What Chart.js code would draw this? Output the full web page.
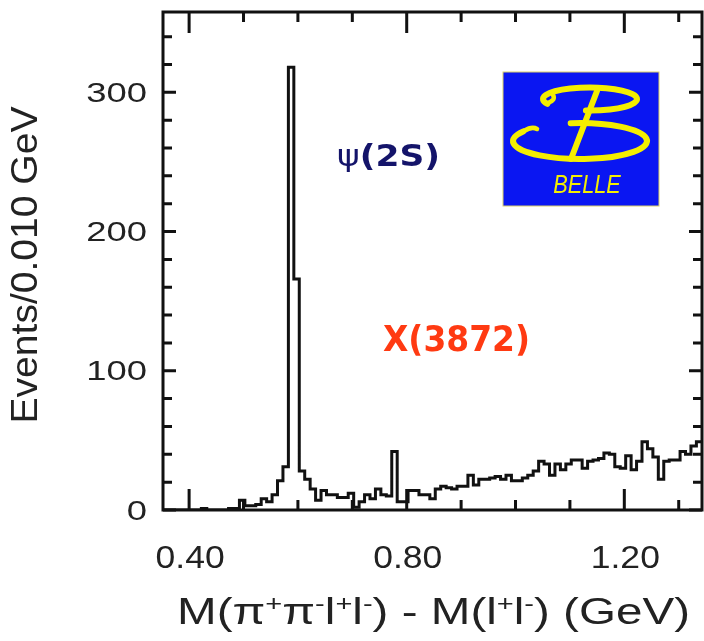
<!DOCTYPE html>
<html>
<head>
<meta charset="utf-8">
<script src="https://cdn.jsdelivr.net/npm/chart.js@4.4.1/dist/chart.umd.min.js"></script>
<style>
html, body { margin:0; padding:0; background:#fff; }
#wrap { width:704px; height:641px; }
</style>
</head>
<body>
<div id="wrap"><canvas id="DiffChart" width="704" height="641"></canvas></div>
<script>
// histogram bins, 0.010 GeV wide, first low edge at binStart
var binStart = 0.3525;
var binWidth = 0.010;
var counts = [
  0, 0, 0, 0, 0, 0, 0, 1, 0, 0,
  0, 0, 1, 1, 7, 3, 3, 4, 8, 6,
  11, 21, 31, 318, 166, 28, 22, 15, 7, 14,
  11, 11, 9, 9, 12, 2, 6, 11, 8, 15,
  11, 10, 42, 6, 6, 14, 14, 11, 11, 8,
  15, 17, 16, 15, 17, 17, 25, 18, 22, 22,
  23, 24, 22, 25, 21, 21, 23, 25, 28, 35,
  33, 25, 33, 29, 33, 36, 36, 30, 35, 36,
  37, 41, 40, 31, 30, 39, 29, 35, 49, 44,
  38, 22, 35, 36, 36, 42, 40, 46, 49
];

var xRange = [0.352, 1.3428];
var yRange = [0, 357.7];

var xTicks = [0.40, 0.50, 0.60, 0.70, 0.80, 0.90, 1.00, 1.10, 1.20, 1.30];
var xLabels = [0.40, 0.80, 1.20];
var yTicks = [0, 20, 40, 60, 80, 100, 120, 140, 160, 180, 200, 220, 240, 260, 280, 300, 320, 340];
var yLabels = [0, 100, 200, 300];

var xTitle = [["M(\u03c0", 0], ["+", 1], ["\u03c0", 0], ["-", 1], ["l", 0], ["+", 1], ["l", 0], ["-", 1],
              [") - M(l", 0], ["+", 1], ["l", 0], ["-", 1], [") (GeV)", 0]];
var yTitle = "Events/0.010 GeV";

var SANS = '"Liberation Sans", Arial, Helvetica, sans-serif';

// step points: low edge of every bin, plus the last high edge
var stepPoints = counts.map(function(c, i) {
  return { x: binStart + i * binWidth, y: c };
});
stepPoints.push({ x: binStart + counts.length * binWidth, y: counts[counts.length - 1] });

function drawStretched(ctx, str, x, y, font, sx, align) {
  ctx.save();
  ctx.font = font;
  ctx.translate(x, y);
  ctx.scale(sx, 1);
  ctx.textAlign = align;
  ctx.textBaseline = 'middle';
  ctx.fillText(str, 0, 0);
  ctx.restore();
}

// fit a run of [text, font, dy] pieces into a given width
function drawFitted(ctx, parts, left, y, width, baseline) {
  var total = 0;
  parts.forEach(function(p) { ctx.font = p[1]; total += ctx.measureText(p[0]).width; });
  ctx.save();
  ctx.translate(left, y);
  ctx.scale(width / total, 1);
  ctx.textBaseline = baseline || 'middle';
  ctx.textAlign = 'left';
  var pos = 0;
  parts.forEach(function(p) {
    ctx.font = p[1];
    ctx.fillText(p[0], pos, p[2] || 0);
    pos += ctx.measureText(p[0]).width;
  });
  ctx.restore();
}

function drawLogo(ctx) {
  ctx.save();
  ctx.fillStyle = '#0a16f2';
  ctx.fillRect(503, 72, 156, 134);
  ctx.strokeStyle = '#d9cf6a';
  ctx.lineWidth = 1;
  ctx.strokeRect(503, 72, 156, 134);

  ctx.strokeStyle = '#f4ee00';
  ctx.lineCap = 'round';
  ctx.lineWidth = 6;
  // upper loop
  ctx.beginPath();
  ctx.ellipse(590, 99, 47, 11.5, 0, 155 * Math.PI / 180, 95 * Math.PI / 180);
  ctx.stroke();
  // lower loop
  ctx.beginPath();
  ctx.ellipse(580, 141, 67, 18, 0, 262 * Math.PI / 180, 212 * Math.PI / 180);
  ctx.stroke();
  // hooks
  ctx.lineWidth = 4.5;
  ctx.beginPath();
  ctx.moveTo(548, 103); ctx.quadraticCurveTo(556, 100, 553, 95);
  ctx.stroke();
  ctx.beginPath();
  ctx.moveTo(524, 131); ctx.quadraticCurveTo(532, 126, 537, 129);
  ctx.stroke();
  // stem
  ctx.lineWidth = 6;
  ctx.beginPath();
  ctx.moveTo(597, 91); ctx.lineTo(571, 159);
  ctx.stroke();

  ctx.fillStyle = '#f4ee00';
  drawStretched(ctx, 'BELLE', 587, 186, 'italic 25px ' + SANS, 0.87, 'center');
  ctx.restore();
}

var framePlugin = {
  id: 'frame',
  afterDatasetsDraw: function(chart) {
    var ctx = chart.ctx;
    var a = chart.chartArea;
    var xs = chart.scales.x, ys = chart.scales.y;
    ctx.save();
    ctx.strokeStyle = '#111';
    ctx.lineWidth = 3;
    ctx.strokeRect(a.left, a.top, a.right - a.left, a.bottom - a.top);

    // inward ticks on all four sides
    ctx.beginPath();
    xTicks.forEach(function(v) {
      var px = xs.getPixelForValue(v);
      var len = xLabels.indexOf(v) >= 0 ? 21 : 10;
      ctx.moveTo(px, a.bottom); ctx.lineTo(px, a.bottom - len);
      ctx.moveTo(px, a.top); ctx.lineTo(px, a.top + len);
    });
    yTicks.forEach(function(v) {
      var py = ys.getPixelForValue(v);
      var len = yLabels.indexOf(v) >= 0 ? 13 : 9;
      ctx.moveTo(a.left, py); ctx.lineTo(a.left + len, py);
      ctx.moveTo(a.right, py); ctx.lineTo(a.right - len, py);
    });
    ctx.stroke();

    ctx.fillStyle = '#222';
    xLabels.forEach(function(v) {
      drawStretched(ctx, v.toFixed(2), xs.getPixelForValue(v) + 1, 559, '32px ' + SANS, 1.11, 'center');
    });
    yLabels.forEach(function(v) {
      drawStretched(ctx, String(v), 147, ys.getPixelForValue(v) + 2, '28px ' + SANS, 1.3, 'right');
    });

    // axis titles
    var big = '36px ' + SANS, small = '22px ' + SANS;
    drawFitted(ctx, xTitle.map(function(p) {
      return [p[0], p[1] ? small : big, p[1] ? -13 : 0];
    }), 177, 624, 513, 'alphabetic');

    ctx.save();
    ctx.translate(27, 265);
    ctx.rotate(-Math.PI / 2);
    ctx.font = '37px ' + SANS;
    ctx.scale(317 / ctx.measureText(yTitle).width, 1);
    ctx.textAlign = 'center';
    ctx.textBaseline = 'middle';
    ctx.fillText(yTitle, 0, 0);
    ctx.restore();

    // peak labels
    ctx.fillStyle = '#14146a';
    drawFitted(ctx, [['\u03c8', '30px "DejaVu Sans"'], ['(2S)', 'bold 30px "DejaVu Sans"']], 337, 158, 103);
    ctx.fillStyle = '#ff3a12';
    drawFitted(ctx, [['X(3872)', 'bold 36px "DejaVu Sans"']], 383, 342, 147);

    drawLogo(ctx);
    ctx.restore();
  }
};

var Dconfig = {
  type: 'line',
  data: {
    datasets: [{
      data: stepPoints,
      stepped: 'before',
      borderColor: '#111',
      borderWidth: 3,
      fill: false,
      pointRadius: 0,
      tension: 0
    }]
  },
  options: {
    responsive: false,
    animation: false,
    layout: { padding: { left: 163, right: 2, top: 12, bottom: 131 } },
    plugins: {
      legend: { display: false },
      tooltip: { enabled: false }
    },
    scales: {
      x: { type: 'linear', min: xRange[0], max: xRange[1], display: false },
      y: { type: 'linear', min: yRange[0], max: yRange[1], display: false }
    }
  },
  plugins: [framePlugin]
};

var DiffChart = new Chart(
  document.getElementById('DiffChart'),
  Dconfig
);
</script>
</body>
</html>
